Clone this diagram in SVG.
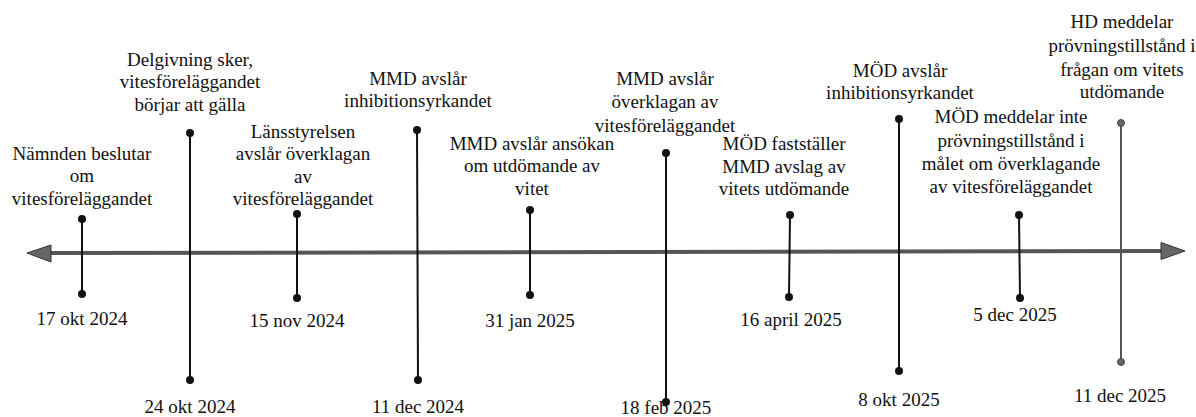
<svg xmlns="http://www.w3.org/2000/svg" width="1196" height="417" viewBox="0 0 1196 417">
<style>
text{font-family:"Liberation Serif","Times New Roman",serif;font-size:19px;fill:#111;text-anchor:middle}
.ln{stroke:#111;stroke-width:2;fill:none}
.dot{fill:#111}
.gln{stroke:#555;stroke-width:2;fill:none}
.gdot{fill:#666;stroke:#444;stroke-width:1}
.axis{stroke:#555;stroke-width:4;fill:none}
.head{fill:#666;stroke:#333;stroke-width:1}
</style>
<rect width="1196" height="417" fill="#fff"/>
<g id="connectors">
<line class="axis" x1="48" y1="253" x2="1164" y2="251"/>
<polygon class="head" points="27,253 51,245 51,262"/>
<polygon class="head" points="1185,251 1161,242.5 1161,259.5"/>
</g>
<g id="e1">
<line class="ln" x1="82" y1="219" x2="82" y2="294"/>
<circle class="dot" cx="82" cy="219" r="4"/><circle class="dot" cx="82" cy="294" r="4"/>
<text x="82" y="160">Nämnden beslutar</text><text x="82" y="182">om</text><text x="82" y="205">vitesföreläggandet</text>
<text x="82" y="325">17 okt 2024</text>
</g>
<g id="e2">
<line class="ln" x1="190" y1="133" x2="190" y2="380"/>
<circle class="dot" cx="190" cy="133" r="4"/><circle class="dot" cx="190" cy="380" r="4"/>
<text x="190" y="66">Delgivning sker,</text><text x="190" y="88">vitesföreläggandet</text><text x="190" y="111">börjar att gälla</text>
<text x="190" y="413">24 okt 2024</text>
</g>
<g id="e3">
<line class="ln" x1="297" y1="214" x2="297" y2="298"/>
<circle class="dot" cx="297" cy="214" r="4"/><circle class="dot" cx="297" cy="298" r="4"/>
<text x="303" y="138">Länsstyrelsen</text><text x="303" y="160">avslår överklagan</text><text x="303" y="183">av</text><text x="303" y="205">vitesföreläggandet</text>
<text x="297" y="327">15 nov 2024</text>
</g>
<g id="e4">
<line class="ln" x1="417" y1="130" x2="418" y2="380"/>
<circle class="dot" cx="417" cy="130" r="4"/><circle class="dot" cx="418" cy="380" r="4"/>
<text x="418" y="85">MMD avslår</text><text x="418" y="107">inhibitionsyrkandet</text>
<text x="418" y="413">11 dec 2024</text>
</g>
<g id="e5">
<line class="ln" x1="530" y1="210" x2="530" y2="295"/>
<circle class="dot" cx="530" cy="210" r="4"/><circle class="dot" cx="530" cy="295" r="4"/>
<text x="532" y="150">MMD avslår ansökan</text><text x="532" y="172">om utdömande av</text><text x="532" y="195">vitet</text>
<text x="530" y="327">31 jan 2025</text>
</g>
<g id="e6">
<line class="ln" x1="666" y1="153" x2="666" y2="402"/>
<circle class="dot" cx="666" cy="153" r="4"/><circle class="dot" cx="666" cy="402" r="4"/>
<text x="665" y="85">MMD avslår</text><text x="665" y="108">överklagan av</text><text x="665" y="132">vitesföreläggandet</text>
<text x="666" y="414">18 feb 2025</text>
</g>
<g id="e7">
<line class="ln" x1="790" y1="215" x2="789" y2="297"/>
<circle class="dot" cx="790" cy="215" r="4"/><circle class="dot" cx="789" cy="297" r="4"/>
<text x="784" y="150">MÖD fastställer</text><text x="784" y="173">MMD avslag av</text><text x="784" y="195">vitets utdömande</text>
<text x="791" y="326">16 april 2025</text>
</g>
<g id="e8">
<line class="ln" x1="899" y1="119" x2="899" y2="371"/>
<circle class="dot" cx="899" cy="119" r="4"/><circle class="dot" cx="899" cy="371" r="4"/>
<text x="900" y="77">MÖD avslår</text><text x="900" y="99">inhibitionsyrkandet</text>
<text x="899" y="406">8 okt 2025</text>
</g>
<g id="e9">
<line class="ln" x1="1019" y1="215" x2="1020" y2="298"/>
<circle class="dot" cx="1019" cy="215" r="4"/><circle class="dot" cx="1020" cy="298" r="4"/>
<text x="1011" y="123">MÖD meddelar inte</text><text x="1011" y="147">prövningstillstånd i</text><text x="1011" y="170">målet om överklagande</text><text x="1011" y="193">av vitesföreläggandet</text>
<text x="1015" y="321">5 dec 2025</text>
</g>
<g id="e10">
<line class="gln" x1="1121" y1="123" x2="1121" y2="362"/>
<circle class="gdot" cx="1121" cy="123" r="3.5"/><circle class="gdot" cx="1121" cy="362" r="3.5"/>
<text x="1122" y="28">HD meddelar</text><text x="1122" y="52">prövningstillstånd i</text><text x="1122" y="76">frågan om vitets</text><text x="1122" y="98">utdömande</text>
<text x="1120" y="402">11 dec 2025</text>
</g>
</svg>
